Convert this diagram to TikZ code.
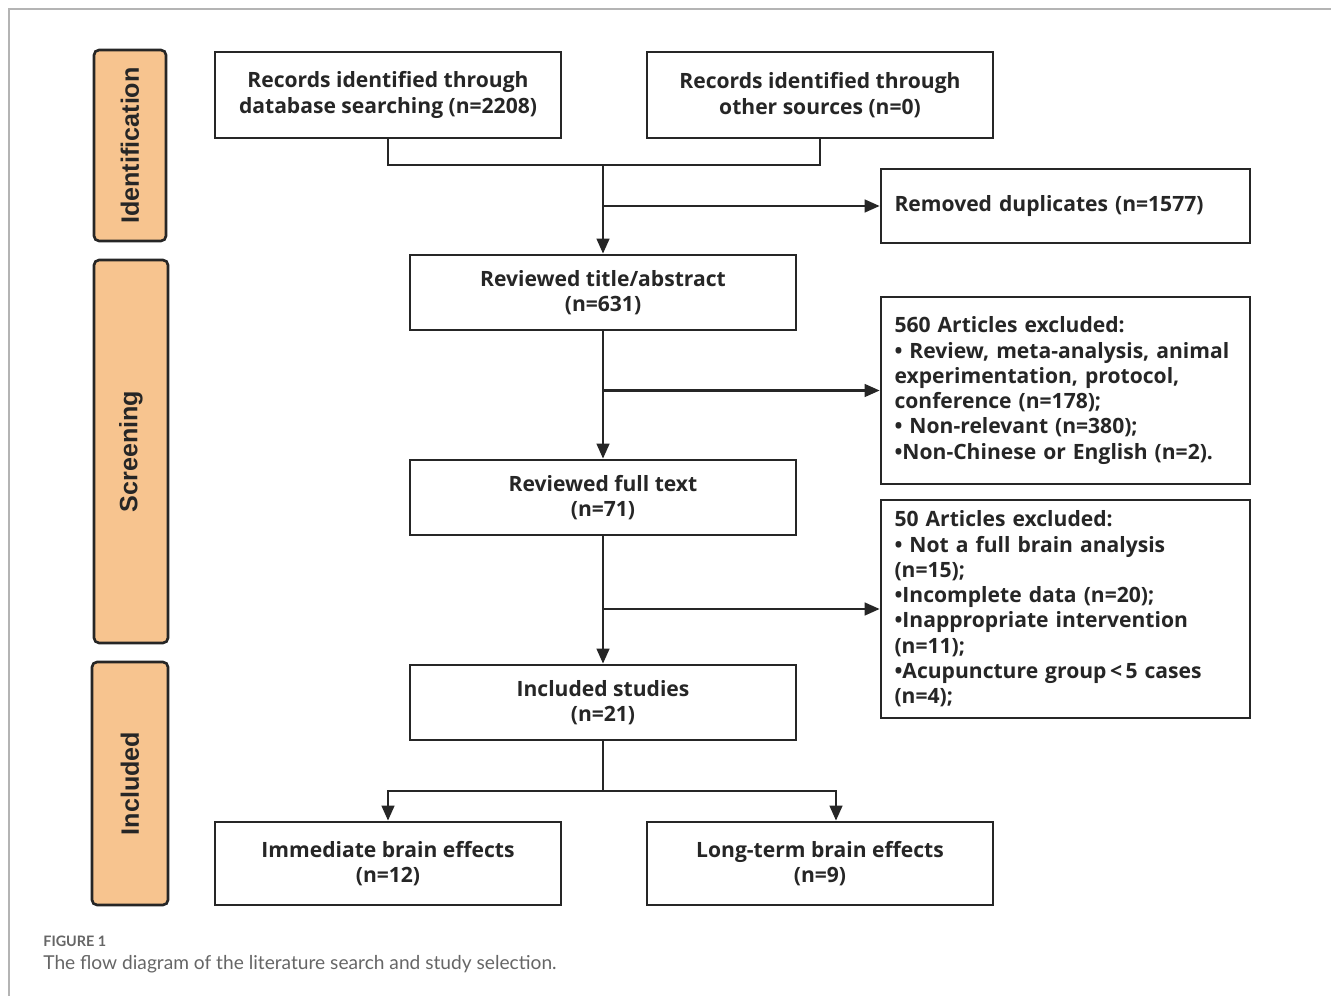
\documentclass[tikz,border=0pt]{standalone}
\usepackage{fontspec}
\usetikzlibrary{arrows.meta}
\newfontfamily\boxfont{Open Sans}
\newfontfamily\stagefont{Liberation Sans}
\newfontfamily\capfont{Lato}
\definecolor{peach}{HTML}{F7C48F}
\definecolor{ink}{HTML}{262626}
\definecolor{framegray}{HTML}{B4B4B4}
\definecolor{capgray}{HTML}{666666}

\tikzset{
  flowbox/.style={draw=ink, line width=1.5pt, fill=white, align=center, inner sep=2pt,
    font=\boxfont\bfseries\fontsize{12}{14.4}\selectfont, text=ink},
  sidebox/.style={flowbox, align=left, text width=6.84cm, minimum width=7.38cm},
  stage/.style={draw=ink, line width=1.5pt, fill=peach, rounded corners=0.1cm, rotate=90,
    font=\stagefont\bfseries\fontsize{14.3}{16}\selectfont, text=ink},
  arr/.style={draw=ink, line width=1.5pt, -{Triangle[length=0.3cm, width=0.25cm]}},
  link/.style={draw=ink, line width=1.5pt}
}

\begin{document}
\begin{tikzpicture}[x=0.02cm, y=-0.02cm]
    \useasboundingbox (0,0) rectangle (1331,996);
    % frame
    \draw[framegray, line width=1.2pt] (1331,9) -- (9,9) -- (9,996);

    % stages
    \node[stage, minimum width=3.82cm, minimum height=1.44cm] (ident) at (130,145.5) {Identification};
    \node[stage, minimum width=7.66cm, minimum height=1.48cm] (screen) at (131,451.5) {Screening};
    \node[stage, minimum width=4.86cm, minimum height=1.52cm] (inclst) at (130,783.5) {Included};

    % boxes
    \node[flowbox, minimum width=6.92cm, minimum height=1.72cm] (rec1) at (388,95) {Records identified through\\database searching (n=2208)};
    \node[flowbox, minimum width=6.92cm, minimum height=1.72cm] (rec2) at (820,95) {Records identified through\\other sources (n=0)};
    \node[sidebox, minimum height=1.48cm] (dup) at (1065.5,206) {Removed duplicates (n=1577)};
    \node[flowbox, minimum width=7.72cm, minimum height=1.5cm] (title) at (603,292.5) {Reviewed title/abstract\\(n=631)};
    \node[sidebox, minimum height=3.74cm] (excl1) at (1065.5,390.5) {560 Articles excluded:\\
        \textbullet{} Review, meta-analysis, animal\\experimentation, protocol,\\conference (n=178);\\
        \textbullet{} Non-relevant (n=380);\\\textbullet Non-Chinese or English (n=2).};
    \node[flowbox, minimum width=7.72cm, minimum height=1.5cm] (full) at (603,497.5) {Reviewed full text\\(n=71)};
    \node[sidebox, minimum height=4.36cm] (excl2) at (1065.5,609) {50 Articles excluded:\\
        \textbullet{} Not a full brain analysis\\(n=15);\\\textbullet Incomplete data (n=20);\\
        \textbullet Inappropriate intervention\\(n=11);\\\textbullet Acupuncture group\,<\,5 cases\\(n=4);};
    \node[flowbox, minimum width=7.72cm, minimum height=1.5cm] (incl) at (603,702.5) {Included studies\\(n=21)};
    \node[flowbox, minimum width=6.92cm, minimum height=1.66cm] (imm) at (388,863.5) {Immediate brain effects\\(n=12)};
    \node[flowbox, minimum width=6.92cm, minimum height=1.66cm] (long) at (820,863.5) {Long-term brain effects\\(n=9)};

    % connectors
    \coordinate (merge) at (603,165);
    \coordinate (split) at (603,791);
    \draw[link] (rec1.south) |- (merge) -| (rec2.south);
    \draw[arr] (merge) -- (title.north);
    \draw[arr] (merge |- dup) -- (dup.west);
    \draw[arr] (title) -- (full);
    \draw[arr] (title.south |- excl1) -- (excl1.west);
    \draw[arr] (full) -- (incl);
    \draw[arr] (full.south |- excl2) -- (excl2.west);
    \draw[link] (incl.south) -- (split);
    \draw[arr] (split) -| (imm.north);
    \draw[arr] (split) -| ([xshift=0.32cm]long.north);

    % caption
    \node[anchor=base west, inner sep=0, text=capgray, font=\capfont\bfseries\fontsize{8.2}{10}\selectfont] (fig) at (43,946) {FIGURE 1};
    \node[anchor=base west, inner sep=0, text=capgray, font=\capfont\fontsize{10.9}{13}\selectfont] (cap) at (43,969) {The flow diagram of the literature search and study selection.};
\end{tikzpicture}
\end{document}
